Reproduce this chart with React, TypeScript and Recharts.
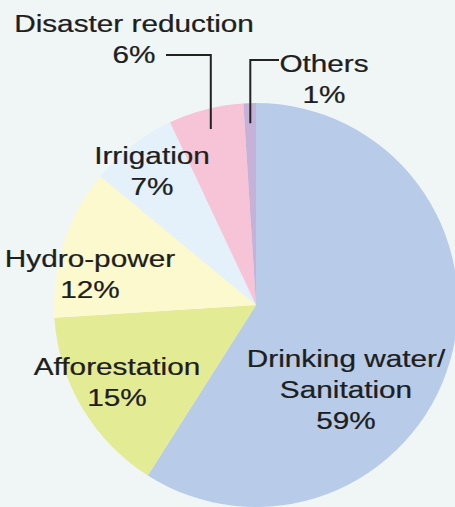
import { PieChart, Pie, Cell } from "recharts";

const CATEGORIES = [
  ["Drinking water/", "Sanitation"],
  ["Afforestation"],
  ["Hydro-power"],
  ["Irrigation"],
  ["Disaster reduction"],
  ["Others"],
];
const SHARES = [59, 15, 12, 7, 6, 1];
const COLORS = ["#b8cce9", "#e4eb95", "#fdf9ce", "#e4f1fb", "#f7c3d6", "#c6b1d8"];

// label offsets from the pie centre (first baseline), plus leader line info
const LABEL_LAYOUT = [
  { dx: 90, dy: 62 },
  { dx: -139, dy: 70 },
  { dx: -166, dy: -38 },
  { dx: -104, dy: -141 },
  { dx: -122, dy: -273, leader: { y: -250, x: -90 } },
  { dx: 68, dy: -233, leader: { y: -245, x: 23 } },
];

const data = CATEGORIES.map((name, i) => ({ name, value: SHARES[i] }));

const RAD = Math.PI / 180;
const LINE_H = 31;
const STRETCH = 1.24; // the source lettering is drawn wide

const renderLabel = (props: any) => {
  const { cx, cy, midAngle, outerRadius, index, value } = props;
  const lay = LABEL_LAYOUT[index];
  const lines = [...CATEGORIES[index], `${value}%`];
  const x = cx + lay.dx;
  const y = cy + lay.dy;
  let leader = null;
  if (lay.leader) {
    const r = outerRadius * 0.9;
    const sx = cx + r * Math.cos(-midAngle * RAD);
    const sy = cy + r * Math.sin(-midAngle * RAD);
    const ly = cy + lay.leader.y;
    const lx = cx + lay.leader.x;
    leader = (
      <path
        d={`M${sx},${sy} L${sx},${ly} L${lx},${ly}`}
        stroke="#222"
        strokeWidth={2}
        fill="none"
      />
    );
  }
  return (
    <g key={`lbl-${index}`}>
      {leader}
      <text
        transform={`translate(${x},${y}) scale(${STRETCH},1)`}
        x={0}
        y={0}
        textAnchor="middle"
        fill="#1e1e1e"
        stroke="#1e1e1e"
        strokeWidth={0.25}
        fontSize={24}
        fontFamily="'Liberation Sans', Arial, sans-serif"
      >
        {lines.map((t, j) => (
          <tspan key={j} x={0} dy={j === 0 ? 0 : LINE_H}>
            {t}
          </tspan>
        ))}
      </text>
    </g>
  );
};

export default function App() {
  return (
    <div style={{ position: "fixed", left: 0, top: 0, width: 455, height: 507, background: "#f0f6f6" }}>
      <PieChart width={455} height={507} margin={{ top: 0, right: 0, bottom: 0, left: 0 }}>
        <Pie
          data={data}
          dataKey="value"
          cx={256}
          cy={305}
          outerRadius={202}
          startAngle={90}
          endAngle={-270}
          stroke="none"
          label={renderLabel}
          labelLine={false}
          isAnimationActive={false}
        >
          {data.map((d, i) => (
            <Cell key={i} fill={COLORS[i]} />
          ))}
        </Pie>
      </PieChart>
    </div>
  );
}
